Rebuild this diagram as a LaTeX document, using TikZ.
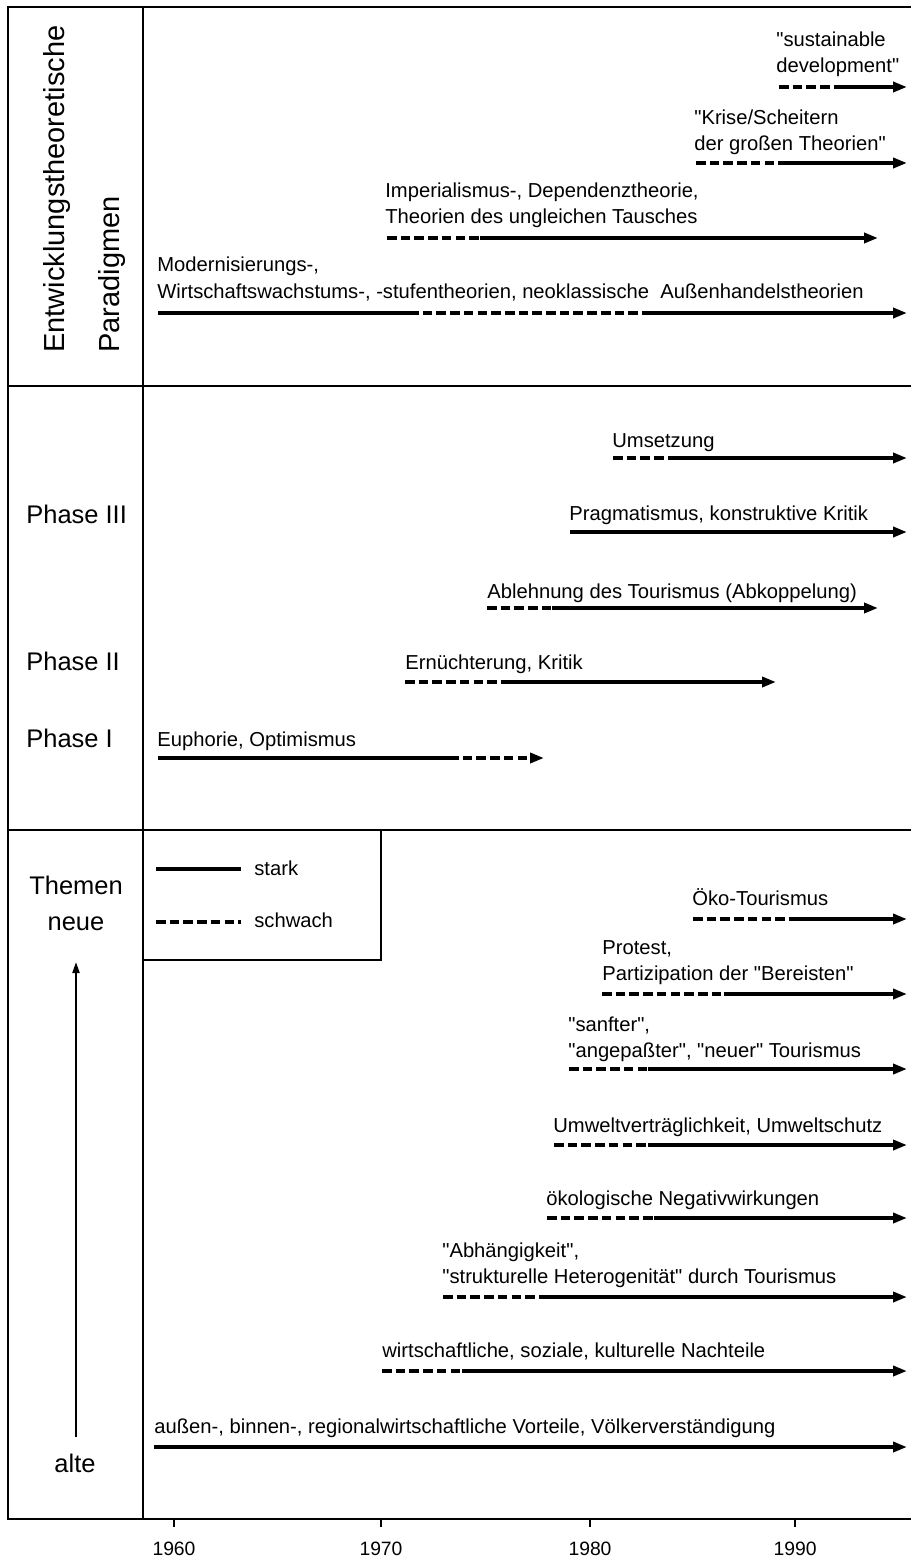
\documentclass[tikz,border=0pt]{standalone}
\usepackage{fontspec}
\setmainfont{Liberation Sans}[Ligatures=TeXOff]
\usetikzlibrary{arrows.meta}

\tikzset{
  strong/.style={line width=2pt},
  weak/.style={line width=2pt, dash pattern=on 5.5pt off 2.3pt},
  arr/.style={-{Triangle[length=0.28cm,width=0.2cm]}},
  frame/.style={line width=1.2pt},
  lbl/.style={anchor=base west, inner sep=0pt, align=left,
    font=\fontsize{11.5}{14.8}\selectfont},
  side/.style={anchor=base, inner sep=0pt, font=\fontsize{14.5}{17}\selectfont},
}

\begin{document}
\begin{tikzpicture}[x=0.02cm, y=-0.02cm]
\useasboundingbox (0,0) rectangle (911,1561);

% Frame and sections
\draw[frame] (911,7) -- (8,7) -- (8,1519) -- (911,1519);
\draw[frame] (143,7) -- (143,1519);
\draw[frame] (8,386) -- (911,386);
\draw[frame] (8,830) -- (911,830);

% Time axis
\foreach \x/\yr in {174/1960, 381/1970, 590/1980, 795/1990} {
    \draw[frame] (\x,1519) -- (\x,1527);
    \node[anchor=base, inner sep=0pt, font=\fontsize{11}{13}\selectfont] (y\yr) at (\x,1555) {\yr};
}

% Left column
\node[side, anchor=base west, rotate=90, font=\fontsize{16.5}{19}\selectfont] (entw) at (64,353) {Entwicklungstheoretische};
\node[side, anchor=base west, rotate=90, font=\fontsize{16.5}{19}\selectfont] (parad) at (119,353) {Paradigmen};
\node[side, anchor=base west] (phIII) at (26,523) {Phase III};
\node[side, anchor=base west] (phII) at (26,670) {Phase II};
\node[side, anchor=base west] (phI) at (26,747) {Phase I};
\node[side] (themen) at (76,894) {Themen};
\node[side] (neue) at (76,930) {neue};
\node[side] (alte) at (75,1472) {alte};
\coordinate (upbot) at (76,1437);
\coordinate (uptop) at (76,962);
\draw[line width=1.2pt, -{Triangle[length=0.22cm,width=0.14cm]}] (upbot) -- (uptop);

% Legend
\draw[frame] (143,960) -- (381,960) -- (381,830);
\coordinate (ls1) at (156,869);
\coordinate (ls2) at (241,869);
\coordinate (lw1) at (156,922);
\coordinate (lw2) at (241,922);
\draw[strong] (ls1) -- (ls2);
\draw[weak] (lw1) -- (lw2);
\node[lbl] (stark) at (254,875) {stark};
\node[lbl] (schwach) at (254,927) {schwach};

% Paradigms
\coordinate (sust-a) at (779,87);
\coordinate (sust-b) at (837,87);
\coordinate (sust-c) at (907,87);
\node[lbl] (sustlbl) at (776,73) {"sustainable\\development"};
\draw[weak] (sust-a) -- (sust-b);
\draw[strong, arr] (sust-b) -- (sust-c);

\coordinate (krise-a) at (696,163);
\coordinate (krise-b) at (788,163);
\coordinate (krise-c) at (907,163);
\node[lbl] (kriselbl) at (694,151) {"Krise/Scheitern\\der großen Theorien"};
\draw[weak] (krise-a) -- (krise-b);
\draw[strong, arr] (krise-b) -- (krise-c);

\coordinate (imp-a) at (387,238);
\coordinate (imp-b) at (480,238);
\coordinate (imp-c) at (878,238);
\node[lbl] (implbl) at (385,224) {Imperialismus-, Dependenztheorie,\\Theorien des ungleichen Tausches};
\draw[weak] (imp-a) -- (imp-b);
\draw[strong, arr] (imp-b) -- (imp-c);

\coordinate (mod-a) at (158,313);
\coordinate (mod-b) at (409,313);
\coordinate (mod-c) at (650,313);
\coordinate (mod-d) at (907,313);
\node[lbl] (modlbl) at (157,298) {Modernisierungs-,\\Wirtschaftswachstums-, -stufentheorien, neoklassische\ \ Außenhandelstheorien};
\draw[strong] (mod-a) -- (mod-b);
\draw[weak] (mod-b) -- (mod-c);
\draw[strong, arr] (mod-c) -- (mod-d);

% Phases
\coordinate (ums-a) at (613,458);
\coordinate (ums-b) at (674,458);
\coordinate (ums-c) at (907,458);
\node[lbl] (umslbl) at (612,447) {Umsetzung};
\draw[weak] (ums-a) -- (ums-b);
\draw[strong, arr] (ums-b) -- (ums-c);

\coordinate (prag-a) at (570,532);
\coordinate (prag-c) at (907,532);
\node[lbl] (praglbl) at (569,520) {Pragmatismus, konstruktive Kritik};
\draw[strong, arr] (prag-a) -- (prag-c);

\coordinate (abl-a) at (487,608);
\coordinate (abl-b) at (552,608);
\coordinate (abl-c) at (878,608);
\node[lbl] (abllbl) at (487,598) {Ablehnung des Tourismus (Abkoppelung)};
\draw[weak] (abl-a) -- (abl-b);
\draw[strong, arr] (abl-b) -- (abl-c);

\coordinate (ern-a) at (405,682);
\coordinate (ern-b) at (503,682);
\coordinate (ern-c) at (776,682);
\node[lbl] (ernlbl) at (405,669) {Ernüchterung, Kritik};
\draw[weak] (ern-a) -- (ern-b);
\draw[strong, arr] (ern-b) -- (ern-c);

\coordinate (eup-a) at (158,758);
\coordinate (eup-b) at (449,758);
\coordinate (eup-c) at (544,758);
\node[lbl] (euplbl) at (157,746) {Euphorie, Optimismus};
\draw[strong] (eup-a) -- (eup-b);
\draw[weak, arr] (eup-b) -- (eup-c);

% Themes
\coordinate (oko-a) at (693,919);
\coordinate (oko-b) at (791,919);
\coordinate (oko-c) at (907,919);
\node[lbl] (okolbl) at (692,905) {Öko-Tourismus};
\draw[weak] (oko-a) -- (oko-b);
\draw[strong, arr] (oko-b) -- (oko-c);

\coordinate (prot-a) at (602,994);
\coordinate (prot-b) at (724,994);
\coordinate (prot-c) at (907,994);
\node[lbl] (protlbl) at (602,980) {Protest,\\Partizipation der "Bereisten"};
\draw[weak] (prot-a) -- (prot-b);
\draw[strong, arr] (prot-b) -- (prot-c);

\coordinate (sanf-a) at (569,1069);
\coordinate (sanf-b) at (648,1069);
\coordinate (sanf-c) at (907,1069);
\node[lbl] (sanflbl) at (568,1057) {"sanfter",\\"angepaßter", "neuer" Tourismus};
\draw[weak] (sanf-a) -- (sanf-b);
\draw[strong, arr] (sanf-b) -- (sanf-c);

\coordinate (umw-a) at (554,1145);
\coordinate (umw-b) at (648,1145);
\coordinate (umw-c) at (907,1145);
\node[lbl] (umwlbl) at (553,1132) {Umweltverträglichkeit, Umweltschutz};
\draw[weak] (umw-a) -- (umw-b);
\draw[strong, arr] (umw-b) -- (umw-c);

\coordinate (oekol-a) at (547,1218);
\coordinate (oekol-b) at (654,1218);
\coordinate (oekol-c) at (907,1218);
\node[lbl] (oekollbl) at (546,1205) {ökologische Negativwirkungen};
\draw[weak] (oekol-a) -- (oekol-b);
\draw[strong, arr] (oekol-b) -- (oekol-c);

\coordinate (abh-a) at (443,1297);
\coordinate (abh-b) at (547,1297);
\coordinate (abh-c) at (907,1297);
\node[lbl] (abhlbl) at (442,1283) {"Abhängigkeit",\\"strukturelle Heterogenität" durch Tourismus};
\draw[weak] (abh-a) -- (abh-b);
\draw[strong, arr] (abh-b) -- (abh-c);

\coordinate (wirt-a) at (382,1371);
\coordinate (wirt-b) at (462,1371);
\coordinate (wirt-c) at (907,1371);
\node[lbl] (wirtlbl) at (382,1357) {wirtschaftliche, soziale, kulturelle Nachteile};
\draw[weak] (wirt-a) -- (wirt-b);
\draw[strong, arr] (wirt-b) -- (wirt-c);

\coordinate (auss-a) at (154,1447);
\coordinate (auss-c) at (907,1447);
\node[lbl] (ausslbl) at (154,1433) {außen-, binnen-, regionalwirtschaftliche Vorteile, Völkerverständigung};
\draw[strong, arr] (auss-a) -- (auss-c);

\end{tikzpicture}
\end{document}
